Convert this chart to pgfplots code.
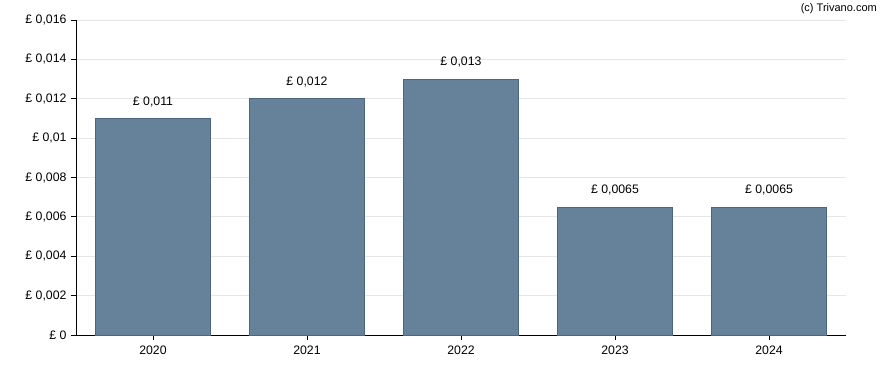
\documentclass[border=0pt]{standalone}
\usepackage{pgfplots}
\pgfplotsset{compat=1.18}
\usepackage{fontspec}
\setmainfont{Liberation Sans}
\definecolor{barfill}{HTML}{66829A}
\definecolor{baredge}{HTML}{4A6680}
\definecolor{gridc}{HTML}{E6E6E6}
\begin{document}
\begin{tikzpicture}[x=1pt,y=1pt]
\useasboundingbox (0,0) rectangle (888,370);
\begin{axis}[
  at={(76pt,35pt)}, anchor=south west,
  scale only axis, width=770pt, height=315pt,
  xmin=-0.5, xmax=4.5, ymin=0, ymax=0.016,
  axis x line*=bottom, axis y line*=left,
  axis line style={black, line width=0.8pt},
  xtick={0,1,2,3,4}, xticklabels={2020,2021,2022,2023,2024},
  ytick={0,0.002,0.004,0.006,0.008,0.010,0.012,0.014,0.016},
  yticklabels={£ 0,£ 0\char44 002,£ 0\char44 004,£ 0\char44 006,£ 0\char44 008,£ 0\char44 01,£ 0\char44 012,£ 0\char44 014,£ 0\char44 016},
  tick align=outside, major tick length=5pt,
  tick style={black, line width=0.8pt},
  ymajorgrids, grid style={gridc, line width=0.8pt},
  every tick label/.append style={font=\fontsize{12.3}{14}\selectfont},
  yticklabel style={xshift=-1pt},
  xticklabel style={yshift=-2pt},
  scaled y ticks=false,
  clip=false,
]
\addplot[ybar, bar width=115pt, fill=barfill, draw=baredge, line width=0.6pt,
  point meta=explicit symbolic,
  nodes near coords={\pgfplotspointmeta},
  every node near coord/.append style={font=\fontsize{12.3}{14}\selectfont, black, yshift=8pt}]
coordinates {
  (0,0.011) [£ 0{,}011]
  (1,0.012) [£ 0{,}012]
  (2,0.013) [£ 0{,}013]
  (3,0.0065) [£ 0{,}0065]
  (4,0.0065) [£ 0{,}0065]
};
\end{axis}
\node[anchor=north east, font=\fontsize{11}{13}\selectfont, inner sep=0pt] at (877,367) {(c) Trivano.com};
\end{tikzpicture}
\end{document}
